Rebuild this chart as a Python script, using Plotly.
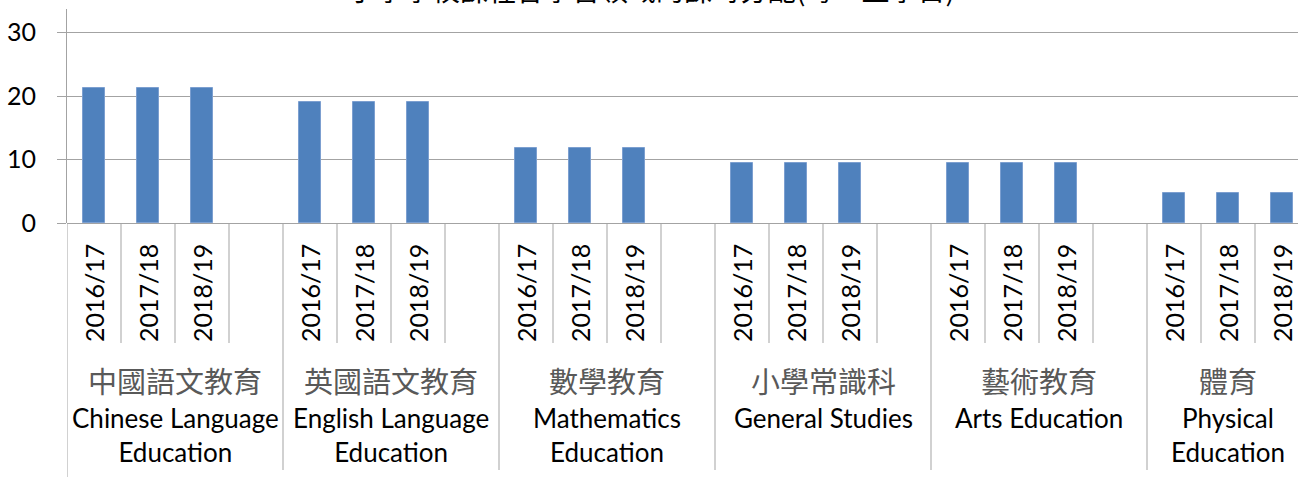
import plotly.graph_objects as go

# ---- data ----
years = ["2016/17", "2017/18", "2018/19"]
subjects_zh = ["中國語文教育", "英國語文教育", "數學教育", "小學常識科", "藝術教育", "體育"]
subjects_en = ["Chinese Language<br>Education", "English Language<br>Education",
               "Mathematics<br>Education", "General Studies", "Arts Education",
               "Physical<br>Education"]
values_2016 = [21.3, 19.1, 11.8, 9.4, 9.4, 4.8]
values_2017 = [21.3, 19.1, 11.8, 9.4, 9.4, 4.8]
values_2018 = [21.3, 19.1, 11.8, 9.4, 9.4, 4.8]
y_ticks = [0, 10, 20, 30]
title_text = "小學學校課程各學習領域的課時分配(每一上學日)"

series = [values_2016, values_2017, values_2018]
n_groups = len(subjects_zh)
slots_per_group = 4  # 3 years + one blank slot

W, H = 1298, 477
ML, MT, MB = 67, 9, 254
plot_h = H - MT - MB

def py(pix):
    """pixel y (from top) -> paper y"""
    return (H - MB - pix) / plot_h

xs, ys = [], []
for g in range(n_groups):
    for j, yr in enumerate(years):
        xs.append(g * slots_per_group + j)
        ys.append(series[j][g])

fig = go.Figure()
fig.add_trace(go.Bar(
    x=xs, y=ys, width=0.39,
    marker=dict(color="#4f81bd", line=dict(color="#7c9fd0", width=1)),
    hoverinfo="y", showlegend=False,
))

FONT = "Lato, Open Sans, sans-serif"
CJK = "Noto Sans CJK TC, sans-serif"
annotations = []
shapes = []
grid_col = "#a3a3a3"

for g in range(n_groups):
    base = g * slots_per_group
    n_slots = slots_per_group if g < n_groups - 1 else len(years)
    # year labels
    for j, yr in enumerate(years):
        annotations.append(dict(
            x=base + j, y=0, xref="x", yref="paper", text=yr, textangle=-90,
            showarrow=False, xanchor="center", yanchor="top", yshift=-19,
            font=dict(family=FONT, size=25, color="#000000")))
    # minor dividers
    for k in range(1, n_slots):
        shapes.append(dict(type="line", xref="x", yref="paper",
                           x0=base + k - 0.5, x1=base + k - 0.5, y0=0, y1=py(343),
                           line=dict(color=grid_col, width=1)))
    # group divider (left)
    shapes.append(dict(type="line", xref="x", yref="paper",
                       x0=base - 0.5, x1=base - 0.5, y0=0,
                       y1=py(477) if g == 0 else py(470),
                       line=dict(color=grid_col, width=1)))
    cx = base + (n_slots - 1) / 2
    annotations.append(dict(
        x=cx, y=py(380), xref="x", yref="paper", text=subjects_zh[g],
        showarrow=False, xanchor="center", yanchor="middle",
        font=dict(family=CJK, size=29, color="#595959")))
    annotations.append(dict(
        x=cx, y=py(400), xref="x", yref="paper", text=subjects_en[g],
        showarrow=False, xanchor="center", yanchor="top",
        font=dict(family=FONT, size=26, color="#000000")))

# partially visible title at the very top
annotations.append(dict(
    x=(651 - ML) / (W - ML), y=1, xref="paper", yref="paper", text=title_text,
    showarrow=False, xanchor="center", yanchor="bottom", yshift=-2,
    font=dict(family=CJK, size=28, color="#000000")))

fig.update_layout(
    width=W, height=H,
    margin=dict(l=ML, r=0, t=MT, b=MB, pad=0),
    plot_bgcolor="white", paper_bgcolor="white",
    bargap=0,
    annotations=annotations, shapes=shapes,
    xaxis=dict(range=[-0.5, -0.5 + (W - ML) / 54.0], showticklabels=False,
               showgrid=False, zeroline=False, ticks="", fixedrange=True),
    yaxis=dict(range=[0, plot_h / 6.35], tickvals=y_ticks,
               showgrid=True, gridcolor=grid_col, gridwidth=1.2,
               zeroline=True, zerolinecolor=grid_col, zerolinewidth=1.2,
               showline=True, linecolor=grid_col, linewidth=1,
               ticks="outside", ticklen=9, tickcolor=grid_col,
               ticklabelstandoff=16,
               tickfont=dict(family=FONT, size=25, color="#000000")),
)

fig.write_html("out.html", config={"displayModeBar": False},
               post_script="document.body.style.margin='0';document.body.style.overflow='hidden';")
